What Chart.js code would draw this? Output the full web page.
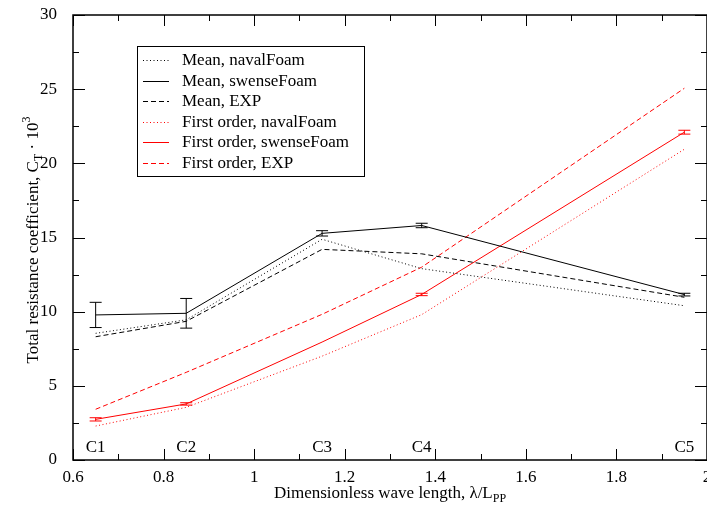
<!DOCTYPE html>
<html><head><meta charset="utf-8">
<script src="https://cdn.jsdelivr.net/npm/chart.js@4/dist/chart.umd.min.js"></script>
<style>html,body{margin:0;padding:0;background:#fff;}canvas{display:block;}</style>
</head><body>
<canvas id="c" width="707" height="505"></canvas>
<script>
// Wave cases and their dimensionless wave lengths
const waveLengths = [0.65, 0.85, 1.15, 1.37, 1.95];
const caseLabels = ['C1', 'C2', 'C3', 'C4', 'C5'];

// Mean total resistance (C_T * 10^3)
const meanNaval = [8.54, 9.45, 14.88, 12.9, 10.4];
const meanSwense = [9.78, 9.89, 15.28, 15.81, 11.15];
const meanSwenseErr = [0.85, 1.0, 0.18, 0.15, 0.09];
const meanExp = [8.31, 9.35, 14.2, 13.9, 10.97];

// First-order harmonic amplitude
const firstNaval = [2.29, 3.55, 7.0, 9.8, 20.95];
const firstSwense = [2.74, 3.78, 7.95, 11.16, 22.1];
const firstSwenseErr = [0.11, 0.08, null, 0.08, 0.13];
const firstExp = [3.42, 5.91, 9.82, 13.0, 25.06];

// Axis ticks
const xMajorTicks = [0.6, 0.8, 1, 1.2, 1.4, 1.6, 1.8, 2];
const xTickLabels = ['0.6', '0.8', '1', '1.2', '1.4', '1.6', '1.8', '2'];
const xMinorTicks = [0.7, 0.9, 1.1, 1.3, 1.5, 1.7, 1.9];
const yMajorTicks = [0, 5, 10, 15, 20, 25, 30];
const yTickLabels = ['0', '5', '10', '15', '20', '25', '30'];
const yMinorTicks = [2.5, 7.5, 12.5, 17.5, 22.5, 27.5];

const SERIF = '"Liberation Serif", "Times New Roman", serif';
const RED = '#ff0000';

const pts = ys => waveLengths.map((x, i) => ({ x, y: ys[i] }));

function series(label, ys, color, dash, err) {
  return {
    label, data: pts(ys), borderColor: color, backgroundColor: color,
    borderWidth: 1, borderDash: dash, pointRadius: 0, tension: 0,
    errors: err || null
  };
}

const datasets = [
  series('Mean, navalFoam', meanNaval, '#000', [1, 2.5]),
  series('Mean, swenseFoam', meanSwense, '#000', [], meanSwenseErr),
  series('Mean, EXP', meanExp, '#000', [5, 3]),
  series('First order, navalFoam', firstNaval, RED, [1, 2.5]),
  series('First order, swenseFoam', firstSwense, RED, [], firstSwenseErr),
  series('First order, EXP', firstExp, RED, [5, 3])
];

// Draws text pieces with optional sub/superscripts, centred on (cx, cy)
function drawRich(ctx, parts, cx, cy, size) {
  const small = Math.round(size * 0.7);
  let total = 0;
  parts.forEach(p => {
    ctx.font = (p.sub || p.sup ? small : size) + 'px ' + SERIF;
    p.w = ctx.measureText(p.t).width; total += p.w;
  });
  let x = cx - total / 2;
  ctx.textAlign = 'left';
  ctx.textBaseline = 'middle';
  parts.forEach(p => {
    ctx.font = (p.sub || p.sup ? small : size) + 'px ' + SERIF;
    const dy = p.sub ? 5 : (p.sup ? -7 : 0);
    ctx.fillText(p.t, x, cy + dy);
    x += p.w;
  });
}

const decor = {
  id: 'decor',
  afterDatasetsDraw(chart) {
    const { ctx, chartArea: a, scales: { x: xs, y: ys } } = chart;
    ctx.save();
    ctx.strokeStyle = '#000';
    ctx.fillStyle = '#000';

    // frame
    ctx.lineWidth = 1.5;
    ctx.strokeRect(a.left, a.top, a.right - a.left, a.bottom - a.top);

    // inward tick marks on all four sides
    ctx.lineWidth = 1;
    ctx.beginPath();
    const xt = (v, len) => {
      const px = Math.round(xs.getPixelForValue(v)) + 0.5;
      ctx.moveTo(px, a.bottom); ctx.lineTo(px, a.bottom - len);
      ctx.moveTo(px, a.top); ctx.lineTo(px, a.top + len);
    };
    const yt = (v, len) => {
      const py = Math.round(ys.getPixelForValue(v)) + 0.5;
      ctx.moveTo(a.left, py); ctx.lineTo(a.left + len, py);
      ctx.moveTo(a.right, py); ctx.lineTo(a.right - len, py);
    };
    xMajorTicks.forEach(v => xt(v, 11));
    xMinorTicks.forEach(v => xt(v, 6));
    yMajorTicks.forEach(v => yt(v, 12));
    yMinorTicks.forEach(v => yt(v, 6));
    ctx.stroke();

    // error bars
    chart.data.datasets.forEach(ds => {
      if (!ds.errors) return;
      ctx.strokeStyle = ds.borderColor;
      ctx.lineWidth = 1;
      ctx.setLineDash([]);
      ds.data.forEach((p, i) => {
        const e = ds.errors[i];
        if (e == null) return;
        const px = xs.getPixelForValue(p.x);
        const top = ys.getPixelForValue(p.y + e);
        const bot = ys.getPixelForValue(p.y - e);
        ctx.beginPath();
        ctx.moveTo(px, top); ctx.lineTo(px, bot);
        ctx.moveTo(px - 6, top); ctx.lineTo(px + 6, top);
        ctx.moveTo(px - 6, bot); ctx.lineTo(px + 6, bot);
        ctx.stroke();
      });
    });

    // case labels above the x axis
    ctx.fillStyle = '#000';
    ctx.font = '17px ' + SERIF;
    ctx.textAlign = 'center';
    ctx.textBaseline = 'middle';
    waveLengths.forEach((w, i) => {
      ctx.fillText(caseLabels[i], xs.getPixelForValue(w), a.bottom - 12);
    });

    // legend box
    const lx = 137, ly = 46, lw = 227, lh = 130;
    ctx.strokeStyle = '#000';
    ctx.lineWidth = 1;
    ctx.strokeRect(lx + 0.5, ly + 0.5, lw, lh);
    chart.data.datasets.forEach((ds, i) => {
      const ry = Math.round(ly + 14 + i * 20.5) + 0.5;
      ctx.strokeStyle = ds.borderColor;
      ctx.setLineDash(ds.borderDash);
      ctx.beginPath();
      ctx.moveTo(143, ry); ctx.lineTo(169, ry);
      ctx.stroke();
      ctx.setLineDash([]);
      ctx.fillStyle = '#000';
      ctx.font = '17px ' + SERIF;
      ctx.textAlign = 'left';
      ctx.textBaseline = 'middle';
      ctx.fillText(ds.label, 182, ry);
    });

    // axis titles
    ctx.fillStyle = '#000';
    drawRich(ctx, [
      { t: 'Dimensionless wave length, \u03bb/L' }, { t: 'PP', sub: true }
    ], 390, 494, 17);
    ctx.save();
    ctx.translate(34, 240);
    ctx.rotate(-Math.PI / 2);
    drawRich(ctx, [
      { t: 'Total resistance coefficient, C' }, { t: 'T', sub: true },
      { t: ' \u00b7 10' }, { t: '3', sup: true }
    ], 0, 0, 17);
    ctx.restore();

    ctx.restore();
  }
};

new Chart(document.getElementById('c'), {
  type: 'line',
  data: { datasets },
  options: {
    responsive: false,
    animation: false,
    layout: { padding: { top: 15, left: 0, right: 0, bottom: 0 } },
    plugins: { legend: { display: false }, tooltip: { enabled: false } },
    scales: {
      x: {
        type: 'linear', min: 0.6, max: 2,
        grid: { display: false, drawTicks: false }, border: { display: false },
        afterBuildTicks: s => { s.ticks = xMajorTicks.map(v => ({ value: v })); },
        afterFit: s => { s.height = 45; s.paddingLeft = 0; s.paddingRight = 0; },
        ticks: {
          autoSkip: false, maxRotation: 0, padding: 7, color: '#000',
          font: { family: SERIF, size: 17 },
          callback: (v, i) => xTickLabels[i]
        }
      },
      y: {
        type: 'linear', min: 0, max: 30,
        grid: { display: false, drawTicks: false }, border: { display: false },
        afterBuildTicks: s => { s.ticks = yMajorTicks.map(v => ({ value: v })); },
        afterFit: s => { s.width = 73; s.paddingTop = 0; s.paddingBottom = 0; },
        ticks: {
          autoSkip: false, padding: 16, color: '#000',
          font: { family: SERIF, size: 17 },
          callback: (v, i) => yTickLabels[i]
        }
      }
    }
  },
  plugins: [decor]
});
</script>
</body></html>
